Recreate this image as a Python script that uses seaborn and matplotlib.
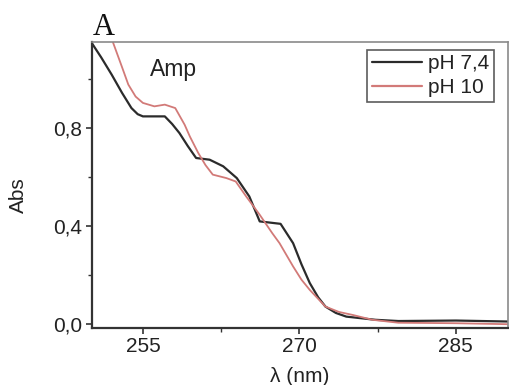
import matplotlib
matplotlib.use("Agg")
import matplotlib.pyplot as plt
from matplotlib.ticker import FixedLocator, FuncFormatter
import numpy as np
import pandas as pd
import seaborn as sns

# Absorption spectra of Amp at two pH values
wavelength_ph74 = [250.0, 251.0, 252.0, 253.0, 253.9, 254.5, 255.0, 257.1, 257.8, 258.5,
                   259.3, 260.1, 261.4, 262.7, 264.0, 265.2, 266.2, 268.2, 269.4, 270.2,
                   271.0, 271.8, 272.5, 273.5, 274.5, 277.3, 279.5, 285.0, 290.0]
abs_ph74 = [1.155, 1.090, 1.020, 0.945, 0.883, 0.858, 0.849, 0.849, 0.818, 0.781,
            0.728, 0.679, 0.672, 0.645, 0.597, 0.522, 0.420, 0.410, 0.331, 0.245,
            0.168, 0.110, 0.072, 0.046, 0.031, 0.018, 0.013, 0.015, 0.011]

wavelength_ph10 = [251.0, 252.1, 253.0, 253.6, 254.3, 255.0, 256.1, 257.1, 258.1, 259.0,
                   259.5, 260.3, 261.0, 261.7, 263.0, 263.9, 264.9, 266.2, 267.4, 268.1,
                   269.4, 270.2, 271.0, 272.5, 273.8, 275.1, 277.0, 279.5, 285.0, 290.0]
abs_ph10 = [1.28, 1.155, 1.05, 0.979, 0.930, 0.904, 0.890, 0.897, 0.883, 0.815,
            0.767, 0.700, 0.650, 0.611, 0.597, 0.583, 0.522, 0.447, 0.372, 0.331,
            0.236, 0.182, 0.140, 0.072, 0.050, 0.038, 0.018, 0.006, 0.004, 0.000]

series_labels = ["pH 7,4", "pH 10"]
series_colors = ["#2b2b2b", "#d27a78"]

df = pd.concat([
    pd.DataFrame({"wl": wavelength_ph74, "abs": abs_ph74, "pH": series_labels[0]}),
    pd.DataFrame({"wl": wavelength_ph10, "abs": abs_ph10, "pH": series_labels[1]}),
])

sns.set_style("ticks")
plt.rcParams["font.family"] = ["Liberation Sans", "DejaVu Sans"]

fig = plt.figure(figsize=(5.10, 3.85), dpi=100)
ax = fig.add_axes([0.180, 0.149, 0.816, 0.742])

sns.lineplot(data=df, x="wl", y="abs", hue="pH", palette=dict(zip(series_labels, series_colors)),
             sort=False, estimator=None, ax=ax, legend=False)
for line, lw in zip(ax.get_lines(), [1.6, 1.3]):
    line.set_linewidth(lw)

ax.set_xlim(250.1, 290.0)
ax.set_ylim(-0.014, 1.153)

ax.xaxis.set_major_locator(FixedLocator([255, 270, 285]))
ax.xaxis.set_minor_locator(FixedLocator([262.5, 277.5]))
ax.yaxis.set_major_locator(FixedLocator([0.0, 0.4, 0.8]))
ax.yaxis.set_minor_locator(FixedLocator([0.2, 0.6, 1.0]))
ax.yaxis.set_major_formatter(FuncFormatter(lambda v, p: f"{v:.1f}".replace(".", ",")))

ax.tick_params(which="major", direction="out", length=4, width=1.2, color="#333333",
               labelsize=15, pad=3, labelcolor="#222222")
ax.tick_params(which="minor", direction="out", length=3, width=1.0, color="#333333")

for side in ["left", "bottom"]:
    ax.spines[side].set_color("#333333")
    ax.spines[side].set_linewidth(1.6)
for side in ["top", "right"]:
    ax.spines[side].set_visible(True)
    ax.spines[side].set_color("#8a8a8a")
    ax.spines[side].set_linewidth(1.2)

ax.set_xlabel("λ (nm)", fontsize=15, color="#222222")
ax.xaxis.set_label_coords(0.500, -0.137)
ax.set_ylabel("Abs", fontsize=15, color="#222222")
ax.yaxis.set_label_coords(-0.154, 0.465)

ax.text(0.139, 0.881, "Amp", transform=ax.transAxes, fontsize=16.5, color="#222222",
        va="baseline")
fig.text(0.181, 0.909, "A", fontsize=22, family=["Liberation Serif", "DejaVu Serif"],
         color="#111111", va="baseline")

handles = [plt.Line2D([], [], color=c, lw=1.6) for c in series_colors]
leg = ax.legend(handles, series_labels, loc="upper right", bbox_to_anchor=(0.966, 0.972),
                fontsize=15, frameon=True, fancybox=False, handlelength=2.4,
                handletextpad=0.33, borderpad=0.2, labelspacing=0.25, borderaxespad=0.0)
leg.get_frame().set_edgecolor("#333333")
leg.get_frame().set_linewidth(1.2)
for t in leg.get_texts():
    t.set_color("#222222")

fig.savefig("out.png", dpi=100, facecolor="white")
